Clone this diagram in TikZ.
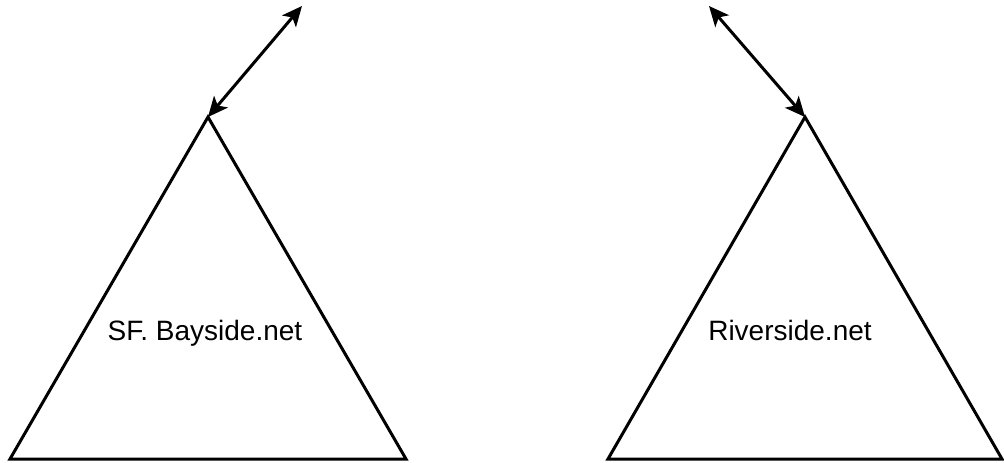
\documentclass[tikz,border=0pt]{standalone}
\usepackage{fontspec}
\setmainfont{Liberation Sans}
\usetikzlibrary{arrows.meta}
\tikzset{
  net/.style    ={draw, line width=3pt, line join=miter},                 % a network as a triangle
  link/.style   ={{Stealth[length=20pt,width=18pt,inset=5pt]}-{Stealth[length=20pt,width=18pt,inset=5pt]}, line width=3pt},
  netlbl/.style ={font=\fontsize{28}{32}\selectfont, inner sep=0pt, anchor=base},
}
\begin{document}
\begin{tikzpicture}[x=1pt,y=-1pt]
  \useasboundingbox (0,0) rectangle (1004,463);

  % LEFT: SF. Bayside.net
  \coordinate (ltop) at (208,117);
  \coordinate (lbl)  at (10,459);
  \coordinate (lbr)  at (406,459);
  \coordinate (lup)  at (302,6);
  \draw[net] (ltop) -- (lbr) -- (lbl) -- cycle;
  \draw[link] (ltop) -- (lup);
  \node[netlbl] (lname) at (205,340) {SF. Bayside.net};

  % RIGHT: Riverside.net
  \coordinate (rtop) at (805,117);
  \coordinate (rbl)  at (608,459);
  \coordinate (rbr)  at (1002,459);
  \coordinate (rup)  at (709,6);
  \draw[net] (rtop) -- (rbr) -- (rbl) -- cycle;
  \draw[link] (rup) -- (rtop);
  \node[netlbl] (rname) at (790,340) {Riverside.net};
\end{tikzpicture}
\end{document}
